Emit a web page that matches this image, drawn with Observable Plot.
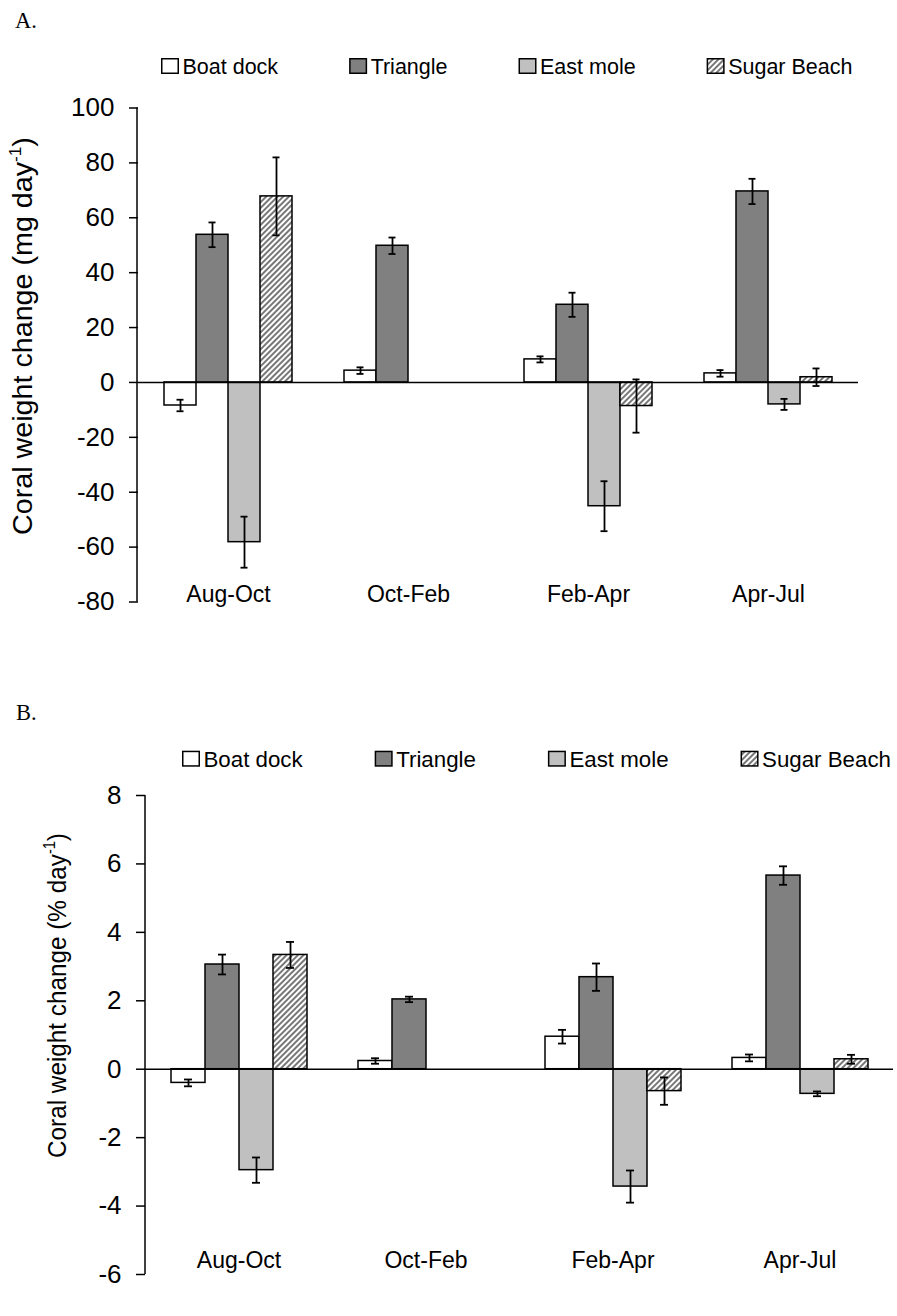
<!DOCTYPE html>
<html><head><meta charset="utf-8">
<script src="https://cdn.jsdelivr.net/npm/d3@7"></script>
<script src="https://cdn.jsdelivr.net/npm/@observablehq/plot@0.6"></script>
<style>
html,body{margin:0;padding:0;background:#fff;}
#page{position:relative;width:897px;height:1316px;overflow:hidden;background:#fff;font-family:"Liberation Sans",Arial,sans-serif;}
</style></head>
<body><div id="page"></div>
<script>
// ---------- data ----------
const periods = ["Aug-Oct", "Oct-Feb", "Feb-Apr", "Apr-Jul"];
const sites = ["Boat dock", "Triangle", "East mole", "Sugar Beach"];

// Panel A: coral weight change (mg day-1), values per period
const mgBoatDock   = [-8.4, 4.3, 8.4, 3.3];
const mgTriangle   = [53.8, 49.8, 28.3, 69.6];
const mgEastMole   = [-58.2, null, -45.1, -8.0];
const mgSugarBeach = [67.8, null, -8.6, 1.9];
const mgErrBoatDock   = [2.1, 1.2, 1.1, 1.2];
const mgErrTriangle   = [4.5, 3.0, 4.4, 4.6];
const mgErrEastMole   = [9.3, null, 9.1, 2.0];
const mgErrSugarBeach = [14.2, null, 9.7, 3.2];
const mgTicks = [-80, -60, -40, -20, 0, 20, 40, 60, 80, 100];

// Panel B: coral weight change (% day-1), values per period
const pctBoatDock   = [-0.40, 0.24, 0.95, 0.33];
const pctTriangle   = [3.06, 2.04, 2.69, 5.66];
const pctEastMole   = [-2.95, null, -3.43, -0.72];
const pctSugarBeach = [3.34, null, -0.64, 0.29];
const pctErrBoatDock   = [0.10, 0.08, 0.20, 0.10];
const pctErrTriangle   = [0.29, 0.08, 0.40, 0.27];
const pctErrEastMole   = [0.37, null, 0.47, 0.07];
const pctErrSugarBeach = [0.38, null, 0.40, 0.13];
const pctTicks = [-6, -4, -2, 0, 2, 4, 6, 8];

// ---------- helpers ----------
const fills = ["white", "#808080", "#c0c0c0", "url(#hatch)"];
const FONT = "'Liberation Sans', Arial, sans-serif";

function buildRows(vals, errs) {
  const out = [];
  periods.forEach((p, i) => sites.forEach((s, j) => {
    const v = vals[j][i];
    if (v != null) out.push({period: p, site: s, value: v, err: errs[j][i]});
  }));
  return out;
}

const page = d3.select("#page");

// overlay svg for defs, panel letters, legends, axis titles
const over = page.append("svg")
  .attr("width", 897).attr("height", 1316)
  .style("position", "absolute").style("left", "0px").style("top", "0px")
  .style("z-index", 2).style("pointer-events", "none")
  .style("font-family", FONT);
const pat = over.append("defs").append("pattern")
  .attr("id", "hatch").attr("patternUnits", "userSpaceOnUse")
  .attr("width", 4).attr("height", 4).attr("patternTransform", "rotate(45)");
pat.append("rect").attr("width", 4).attr("height", 4).attr("fill", "white");
pat.append("line").attr("x1", 2).attr("y1", -1).attr("x2", 2).attr("y2", 5)
  .attr("stroke", "#4a4a4a").attr("stroke-width", 1.5);

function panel(cfg) {
  const rows = buildRows(cfg.vals, cfg.errs);
  const [lo, hi] = cfg.domain;
  const chart = Plot.plot({
    width: 897, height: cfg.height,
    marginTop: cfg.mt, marginBottom: cfg.mb, marginLeft: cfg.ml, marginRight: cfg.mr,
    style: {background: "transparent", fontFamily: FONT, color: "black", overflow: "visible"},
    fx: {domain: periods, padding: 0, axis: null, label: null},
    x: {domain: sites, paddingInner: 0, paddingOuter: 0.73, axis: null, label: null},
    y: {domain: cfg.domain, axis: null, label: null},
    color: {type: "ordinal", domain: sites, range: fills},
    marks: [
      Plot.axisY({ticks: cfg.ticks, tickSize: 9, tickPadding: 15, fontSize: 26,
        label: null, tickFormat: d => String(d), strokeWidth: 1.5}),
      Plot.barY(rows, {fx: "period", x: "site", y: "value", fill: "site",
        stroke: "black", strokeWidth: 1.5}),
      Plot.ruleY([0], {stroke: "black", strokeWidth: 1.5}),
      Plot.ruleX(rows, {fx: "period", x: "site", y1: d => d.value - d.err, y2: d => d.value + d.err,
        stroke: "black", strokeWidth: 1.8}),
      Plot.tickY(rows, {fx: "period", x: "site", y: d => d.value - d.err,
        insetLeft: cfg.cap, insetRight: cfg.cap, stroke: "black", strokeWidth: 1.8}),
      Plot.tickY(rows, {fx: "period", x: "site", y: d => d.value + d.err,
        insetLeft: cfg.cap, insetRight: cfg.cap, stroke: "black", strokeWidth: 1.8}),
      Plot.text(periods, {fx: d => d, y: lo, text: d => d, lineAnchor: "bottom",
        dy: cfg.labelDy, fontSize: 23, fill: "black"})
    ]
  });
  const ys = chart.scale("y");
  const yf = ys && ys.apply ? (v => ys.apply(v)) :
    d3.scaleLinear(cfg.domain, [cfg.height - cfg.mb, cfg.mt]);
  d3.select(chart).append("line")
    .attr("x1", cfg.ml).attr("x2", cfg.ml)
    .attr("y1", yf(hi)).attr("y2", yf(lo))
    .attr("stroke", "black").attr("stroke-width", 1.5);
  d3.select(chart).style("position", "absolute").style("left", "0px")
    .style("top", cfg.top + "px").style("z-index", 1);
  page.node().appendChild(chart);
}

panel({vals: [mgBoatDock, mgTriangle, mgEastMole, mgSugarBeach],
  errs: [mgErrBoatDock, mgErrTriangle, mgErrEastMole, mgErrSugarBeach],
  ticks: mgTicks, domain: [-80, 100], top: 80, height: 540,
  mt: 27.5, mb: 18.5, ml: 137, mr: 38, cap: 12.5, labelDy: 0});

panel({vals: [pctBoatDock, pctTriangle, pctEastMole, pctSugarBeach],
  errs: [pctErrBoatDock, pctErrTriangle, pctErrEastMole, pctErrSugarBeach],
  ticks: pctTicks, domain: [-6, 8], top: 775, height: 520,
  mt: 20, mb: 21, ml: 145, mr: 4, cap: 13, labelDy: -7});

// panel letters
over.append("text").attr("x", 15).attr("y", 28).attr("font-family", "'Liberation Serif', 'Times New Roman', serif")
  .attr("font-size", 22.5).text("A.");
over.append("text").attr("x", 16).attr("y", 719.5).attr("font-family", "'Liberation Serif', 'Times New Roman', serif")
  .attr("font-size", 22.5).text("B.");

// legends
function legend(startX, baseline, fontSize, gap) {
  let x = startX;
  sites.forEach((s, i) => {
    over.append("rect").attr("x", x + 0.75).attr("y", baseline - 15.25)
      .attr("width", 16.5).attr("height", 14.5)
      .attr("fill", fills[i]).attr("stroke", "black").attr("stroke-width", 1.5);
    const t = over.append("text").attr("x", x + 21.5).attr("y", baseline)
      .attr("font-size", fontSize).text(s);
    x += 21.5 + t.node().getComputedTextLength() + gap;
  });
}
legend(161, 74, 21.5, 71);
legend(182, 766.7, 22.3, 72);

// y-axis titles
function yTitle(bx, cy, fontSize, targetLen, unit) {
  const g = over.append("g").attr("transform", `translate(${bx},${cy}) rotate(-90)`);
  const t = g.append("text").attr("text-anchor", "middle").attr("font-size", fontSize);
  t.append("tspan").text(`Coral weight change (${unit} day`);
  t.append("tspan").attr("font-size", fontSize * 0.6).attr("dy", -fontSize * 0.42).text("-1");
  t.append("tspan").attr("dy", fontSize * 0.42).text(")");
  const len = t.node().getComputedTextLength();
  if (len > 0) t.attr("transform", `scale(${targetLen / len},1)`);
}
yTitle(32, 336, 27, 398, "mg");
yTitle(66, 995.5, 26, 325, "%");
</script>
</body></html>
